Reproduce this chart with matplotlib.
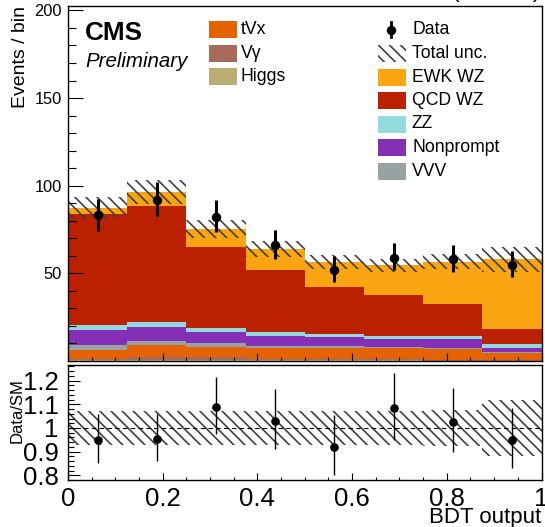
import numpy as np
import matplotlib
matplotlib.use("Agg")
from matplotlib import pyplot as plt
from matplotlib.patches import Rectangle
from matplotlib.lines import Line2D
from matplotlib.ticker import MultipleLocator, FixedLocator, FuncFormatter

plt.rcParams.update({
    "font.family": ["Liberation Sans", "DejaVu Sans"],
    "hatch.linewidth": 1.2,
    "axes.linewidth": 1.0,
})

W, H = 545, 527   # output size in pixels

# ---------------------------------------------------------------------------- #
# Yields per BDT bin. Stack order: bottom -> top
# ---------------------------------------------------------------------------- #
edges = np.linspace(0, 1, 9)
centres = 0.5*(edges[1:] + edges[:-1])

higgs     = [0.6, 0.6, 0.6, 0.6, 0.6, 0.6, 0.2, 0.2]
vgamma    = [0.5, 1.8, 1.5, 0.5, 0.5, 0.5, 0.3, 0.3]
tvx       = [5.3, 6.9, 6.0, 6.5, 6.3, 6.3, 6.5, 4.2]
vvv       = [2.9, 2.2, 2.1, 0.9, 0.9, 0.6, 0.4, 0.2]
nonprompt = [8.5, 8.0, 6.3, 5.9, 5.3, 4.7, 4.9, 2.5]
zz        = [2.7, 2.7, 2.3, 2.1, 1.9, 1.5, 1.9, 2.4]
qcd_wz    = [63.4, 66.1, 46.2, 35.4, 26.7, 23.5, 18.2, 8.4]
ewk_wz    = [3.4, 8.1, 10.4, 12.1, 14.4, 16.8, 24.2, 39.8]

data = [83, 92, 82, 66, 52, 59, 58, 55]
rel_unc = [0.073, 0.07, 0.07, 0.07, 0.07, 0.07, 0.075, 0.12]

stack = [
    ("Higgs", higgs, "#baae74"),
    ("V\u03b3", vgamma, "#a86a58"),
    ("tVx", tvx, "#e56200"),
    ("VVV", vvv, "#95a4a2"),
    ("Nonprompt", nonprompt, "#852eb6"),
    ("ZZ", zz, "#92dade"),
    ("QCD WZ", qcd_wz, "#bb2000"),
    ("EWK WZ", ewk_wz, "#fca512"),
]

data = np.array(data, dtype=float)
rel_unc = np.array(rel_unc)
total = np.sum([np.array(s[1]) for s in stack], axis=0)

# approximate Poisson (Garwood-like) errors on data
err_hi = 0.5 + np.sqrt(data + 0.25)
err_lo = -0.5 + np.sqrt(data + 0.25)

hatch_col = "#404040"

def fx(x):
    return x/W

def fy(y):
    return 1 - y/H

fig = plt.figure(figsize=(W/100, H/100), dpi=100)
ax = fig.add_axes([fx(68), fy(361), 473.5/W, 355/H])
rax = fig.add_axes([fx(68), fy(480), 473.5/W, 114.7/H])

# ---------------------------------------------------------------------------- #
# Top panel
# ---------------------------------------------------------------------------- #
bottom = np.zeros(len(centres))
for name, vals, col in stack:
    ax.bar(edges[:-1], vals, width=0.125, bottom=bottom, align="edge",
           color=col, edgecolor="none", linewidth=0)
    bottom = bottom + np.array(vals)

ax.stairs(total*(1+rel_unc), edges, baseline=total*(1-rel_unc), fill=True,
          facecolor="none", edgecolor=hatch_col, hatch="\\\\\\", linewidth=0)

ax.errorbar(centres, data, yerr=[err_lo, err_hi], fmt="o", color="k",
            ms=5.8, elinewidth=2.2, capsize=0)

ax.set_xlim(0, 1)
ax.set_ylim(0, 202.5)
ax.yaxis.set_major_locator(FixedLocator([50, 100, 150, 200]))
ax.yaxis.set_minor_locator(MultipleLocator(10))
ax.xaxis.set_major_locator(MultipleLocator(0.2))
ax.xaxis.set_minor_locator(MultipleLocator(0.05))
ax.tick_params(axis="y", which="major", direction="in", length=10.8, width=0.8,
               labelsize=11.8, pad=4.5)
ax.tick_params(axis="y", which="minor", direction="in", length=5.8, width=0.8)
ax.tick_params(axis="x", which="major", direction="in", length=6, width=0.8,
               labelbottom=False)
ax.tick_params(axis="x", which="minor", direction="in", length=3, width=0.8)

# ---------------------------------------------------------------------------- #
# Ratio panel
# ---------------------------------------------------------------------------- #
ratio = data/total
rax.stairs(1+rel_unc, edges, baseline=1-rel_unc, fill=True,
           facecolor="none", edgecolor=hatch_col, hatch="\\\\\\", linewidth=0)
rax.axhline(1, color="k", linestyle="--", linewidth=0.8, dashes=(4, 3))
rax.errorbar(centres, ratio, yerr=[err_lo/total, err_hi/total], fmt="o",
             color="k", ms=5.2, elinewidth=1.0, capsize=0)

rax.set_xlim(0, 1)
rax.set_ylim(0.78, 1.265)
fmt = FuncFormatter(lambda v, p: f"{v:g}")
rax.yaxis.set_major_locator(MultipleLocator(0.1))
rax.yaxis.set_minor_locator(MultipleLocator(0.02))
rax.yaxis.set_major_formatter(fmt)
rax.xaxis.set_major_locator(MultipleLocator(0.2))
rax.xaxis.set_minor_locator(MultipleLocator(0.05))
rax.xaxis.set_major_formatter(fmt)
rax.tick_params(axis="y", which="major", direction="in", length=8.6, width=0.8,
                labelsize=18.5, pad=6.8)
rax.tick_params(axis="y", which="minor", direction="in", length=4.3, width=0.8)
rax.tick_params(axis="x", which="major", direction="in", length=5, width=0.8,
                labelsize=18.5, pad=5.2)
rax.tick_params(axis="x", which="minor", direction="in", length=2.5, width=0.8)

# ---------------------------------------------------------------------------- #
# Labels
# ---------------------------------------------------------------------------- #
fig.text(fx(20.5), fy(57), "Events / bin", rotation=90, ha="center", va="center",
         fontsize=14)
fig.text(fx(17), fy(411), "Data/SM", rotation=90, ha="center", va="center",
         fontsize=12)
fig.text(fx(541), fy(517.5), "BDT output", ha="right", va="center", fontsize=16)
fig.text(fx(85), fy(40), "CMS", fontsize=18.8, fontweight="bold", va="baseline")
fig.text(fx(85), fy(67), "Preliminary", fontsize=14.8, style="italic", va="baseline")
fig.text(fx(541), 1 + 2/H, "137 fb$^{-1}$ (13 TeV)", ha="right", va="baseline",
         fontsize=16.5)

# ---------------------------------------------------------------------------- #
# Legend (two columns, placed by hand)
# ---------------------------------------------------------------------------- #
colours = {name: col for name, vals, col in stack}
lfs = 12.7

def legend_box(x0, yc, **kw):
    fig.add_artist(Rectangle((fx(x0), fy(yc + 8.5)), 28/W, 17/H,
                             transform=fig.transFigure, **kw))

left_rows = [("tVx", 29.5), ("V\u03b3", 53), ("Higgs", 76.5)]
for name, yc in left_rows:
    legend_box(209, yc, facecolor=colours[name], edgecolor="none")
    fig.text(fx(241), fy(yc), name, va="center", ha="left", fontsize=lfs)

# Data entry
fig.add_artist(Line2D([fx(391), fx(391)], [fy(22), fy(37)], color="k", lw=2,
                      transform=fig.transFigure))
fig.add_artist(Line2D([fx(391)], [fy(29.5)], marker="o", ms=5.8, color="k",
                      transform=fig.transFigure))
fig.text(fx(412), fy(29.5), "Data", va="center", ha="left", fontsize=lfs)

# Total unc. entry
legend_box(378, 53, facecolor="none", edgecolor=hatch_col,
           hatch="\\\\\\", linewidth=0)
fig.text(fx(412), fy(53), "Total unc.", va="center", ha="left", fontsize=lfs)

right_rows = [("EWK WZ", 77), ("QCD WZ", 100.5), ("ZZ", 124),
              ("Nonprompt", 147.5), ("VVV", 171)]
for name, yc in right_rows:
    legend_box(378, yc, facecolor=colours[name], edgecolor="none")
    fig.text(fx(412), fy(yc), name, va="center", ha="left", fontsize=lfs)

fig.savefig("out.png", dpi=100)
